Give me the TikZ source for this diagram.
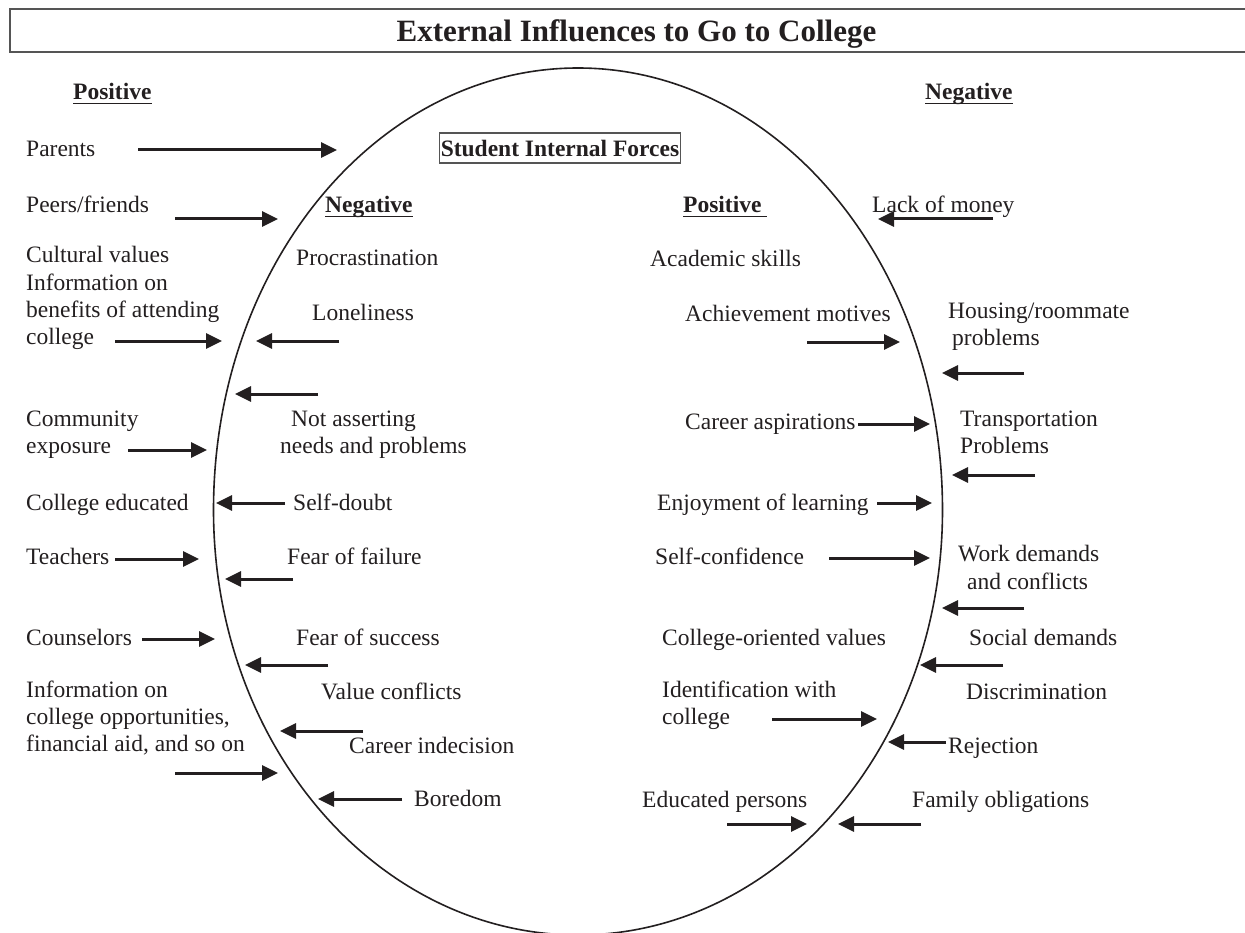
\documentclass[tikz,border=0pt]{standalone}
\usepackage{fontspec}
\setmainfont{Liberation Serif}
\usetikzlibrary{arrows.meta}
\definecolor{ink}{RGB}{35,31,32}
\definecolor{framegray}{RGB}{85,85,85}
\newcommand\ulx[1]{\setbox0\hbox{#1}\rlap{\color{ink}\rule[-4.5pt]{\wd0}{1.3pt}}\box0}
\newcommand\arw[5]{\coordinate (#1s) at (#2,#3); \coordinate (#1e) at (#4,#5); \draw[arr] (#1s) -- (#1e);}
\begin{document}
\begin{tikzpicture}[x=1pt,y=-1pt,
  lbl/.style={anchor=north west, inner sep=0pt, align=left, text=ink,
              font=\fontsize{23.5}{27.2}\selectfont, yshift=11.54pt,
              execute at begin node=\strut},
  head/.style={lbl, font=\fontsize{23.5}{27.2}\selectfont\bfseries},
  arr/.style={draw=ink, line width=3pt, -{Triangle[length=16pt,width=15pt]}}]
\useasboundingbox (0,0) rectangle (1245,933);
\clip (0,0) rectangle (1245,933);
\fill[white] (0,0) rectangle (1245,933);

% title frame
\draw[framegray, line width=1.3pt] (1250,9) -- (10,9) -- (10,52) -- (1250,52);
\node[anchor=base, inner sep=0pt, text=ink, font=\fontsize{31}{36}\selectfont\bfseries] (title) at (636.5,42) {External Influences to Go to College};

% ellipse
\draw[ink, line width=1.6pt] (213.5,510) arc[start angle=180, end angle=0, x radius=364.5pt, y radius=442pt]
   arc[start angle=0, end angle=-180, x radius=364.5pt, y radius=425pt];

% headings
\node[head] (hpos) at (73,92) {\ulx{Positive}};
\node[head] (hneg) at (925,92) {\ulx{Negative}};
\node[anchor=base, draw=framegray, line width=1.2pt, inner xsep=1.5pt, inner ysep=3pt,
      text height=20.5pt, text depth=3.5pt, text=ink,
      font=\fontsize{23.5}{27.2}\selectfont\bfseries] (sif) at (560,156.5) {Student Internal Forces};
\node[head] (ineg) at (325,205) {\ulx{Negative}};
\node[head] (ipos) at (683,205) {\ulx{Positive\ }};

% left outer positive
\node[lbl] (parents) at (26,149) {Parents};
\node[lbl] (peers) at (26,205) {Peers/friends};
\node[lbl] (cult) at (26,258) {Cultural values\\Information on\\benefits of attending\\college};
\node[lbl] (comm) at (26,422) {Community\\exposure};
\node[lbl] (coled) at (26,503) {College educated};
\node[lbl] (teach) at (26,557) {Teachers};
\node[lbl] (couns) at (26,638) {Counselors};
\node[lbl] (info) at (26,692) {Information on\\college opportunities,\\financial aid, and so on};

% left inner negative
\node[lbl] (procr) at (296,258) {Procrastination};
\node[lbl] (lonel) at (312,313) {Loneliness};
\node[lbl] (notas) at (280,422) {\hspace*{11pt}Not asserting\\needs and problems};
\node[lbl] (sdoubt) at (293,503) {Self-doubt};
\node[lbl] (ffail) at (287,557) {Fear of failure};
\node[lbl] (fsucc) at (296,638) {Fear of success};
\node[lbl] (valc) at (321,692) {Value conflicts};
\node[lbl] (cind) at (349,746) {Career indecision};
\node[lbl] (bored) at (414,799) {Boredom};

% right inner positive
\node[lbl] (acad) at (650,259) {Academic skills};
\node[lbl] (achv) at (685,314) {Achievement motives};
\node[lbl] (casp) at (685,422) {Career aspirations};
\node[lbl] (enjoy) at (657,503) {Enjoyment of learning};
\node[lbl] (sconf) at (655,557) {Self-confidence};
\node[lbl] (cov) at (662,638) {College-oriented values};
\node[lbl] (ident) at (662,692) {Identification with\\college};
\node[lbl] (edup) at (642,800) {Educated persons};

% right outer negative
\node[lbl] (money) at (872,205) {Lack of money};
\node[lbl] (house) at (948,314) {Housing/roommate\\\hspace*{4pt}problems};
\node[lbl] (trans) at (960,422) {Transportation\\Problems};
\node[lbl] (work) at (958,557) {Work demands\\\hspace*{9pt}and conflicts};
\node[lbl] (social) at (969,638) {Social demands};
\node[lbl] (discr) at (966,692) {Discrimination};
\node[lbl] (rej) at (948,746) {Rejection};
\node[lbl] (fam) at (912,800) {Family obligations};

% arrows: left outer
\arw{a1}{138}{150}{337}{150}
\arw{a2}{175}{219}{278}{219}
\arw{a3}{115}{341}{222}{341}
\arw{a4}{128}{450}{207}{450}
\arw{a5}{115}{559}{199}{559}
\arw{a6}{142}{639}{215}{639}
\arw{a7}{175}{773}{278}{773}
% arrows: left inner
\arw{b1}{339}{341}{256}{341}
\arw{b2}{318}{394}{235}{394}
\arw{b3}{285}{503}{216}{503}
\arw{b4}{293}{579}{225}{579}
\arw{b5}{328}{665}{245}{665}
\arw{b6}{363}{731}{280}{731}
\arw{b7}{402}{799}{318}{799}
% arrows: right inner
\arw{c1}{807}{342}{900}{342}
\arw{c2}{858}{424}{930}{424}
\arw{c3}{877}{503}{932}{503}
\arw{c4}{829}{558}{930}{558}
\arw{c5}{772}{719}{877}{719}
\arw{c6}{727}{824}{807}{824}
% arrows: right outer
\arw{d1}{993}{219}{878}{219}
\arw{d2}{1024}{373}{942}{373}
\arw{d3}{1035}{475}{952}{475}
\arw{d4}{1024}{608}{942}{608}
\arw{d5}{1003}{665}{920}{665}
\arw{d6}{946}{742}{888}{742}
\arw{d7}{921}{824}{838}{824}
\end{tikzpicture}
\end{document}
